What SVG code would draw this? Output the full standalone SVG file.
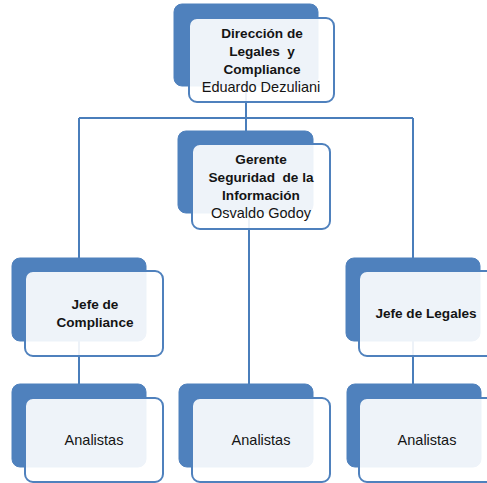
<svg xmlns="http://www.w3.org/2000/svg" width="487" height="483" viewBox="0 0 487 483">
<style>
.back{fill:#4F81BD;stroke:#4F81BD;stroke-width:1}
.front{fill:#ffffff;fill-opacity:0.9;stroke:#4F81BD;stroke-width:2}
.conn{stroke:#4A7EBB;stroke-width:2;fill:none}
.b{font-family:"Liberation Sans",Arial,sans-serif;font-weight:bold;font-size:13.6px;fill:#141414;text-anchor:middle;white-space:pre}
.n{font-family:"Liberation Sans",Arial,sans-serif;font-size:14.5px;fill:#141414;text-anchor:middle}
</style>
<rect width="487" height="483" fill="#ffffff"/>
<g id="connectors">
<path class="conn" d="M246 86V131"/>
<path class="conn" d="M79 118H413"/>
<path class="conn" d="M79 118V258"/>
<path class="conn" d="M413 118V258"/>
<path class="conn" d="M249 213V385"/>
<path class="conn" d="M79 341V385"/>
<path class="conn" d="M413 341V385"/>
</g>
<g id="direccion">
<rect class="back" x="174" y="4" width="144" height="82" rx="8"/>
<rect class="front" x="189" y="18" width="145" height="84" rx="8"/>
<text class="b" x="262" y="38">Dirección de</text>
<text class="b" x="262" y="56">Legales  y</text>
<text class="b" x="262" y="74">Compliance</text>
<text class="n" x="261" y="92">Eduardo Dezuliani</text>
</g>
<g id="gerente">
<rect class="back" x="178" y="131" width="135" height="82" rx="8"/>
<rect class="front" x="192" y="144" width="138" height="85" rx="8"/>
<text class="b" x="261" y="164">Gerente</text>
<text class="b" x="261" y="182">Seguridad  de la</text>
<text class="b" x="261" y="200">Información</text>
<text class="n" x="261" y="218">Osvaldo Godoy</text>
</g>
<g id="jefe-compliance">
<rect class="back" x="12" y="258" width="134" height="83" rx="8"/>
<rect class="front" x="25" y="271" width="138" height="85" rx="8"/>
<text class="b" x="95" y="309">Jefe de</text>
<text class="b" x="95" y="327">Compliance</text>
</g>
<g id="jefe-legales">
<rect class="back" x="346" y="258" width="134" height="83" rx="8"/>
<rect class="front" x="359" y="271" width="138" height="85" rx="8"/>
<text class="b" x="426" y="318">Jefe de Legales</text>
</g>
<g id="analistas-1">
<rect class="back" x="12" y="384" width="134" height="83" rx="8"/>
<rect class="front" x="25" y="398" width="138" height="84" rx="8"/>
<text class="n" x="94" y="445">Analistas</text>
</g>
<g id="analistas-2">
<rect class="back" x="179" y="384" width="134" height="83" rx="8"/>
<rect class="front" x="192" y="398" width="138" height="84" rx="8"/>
<text class="n" x="261" y="445">Analistas</text>
</g>
<g id="analistas-3">
<rect class="back" x="347" y="384" width="134" height="83" rx="8"/>
<rect class="front" x="359" y="398" width="138" height="84" rx="8"/>
<text class="n" x="427" y="445">Analistas</text>
</g>
</svg>
